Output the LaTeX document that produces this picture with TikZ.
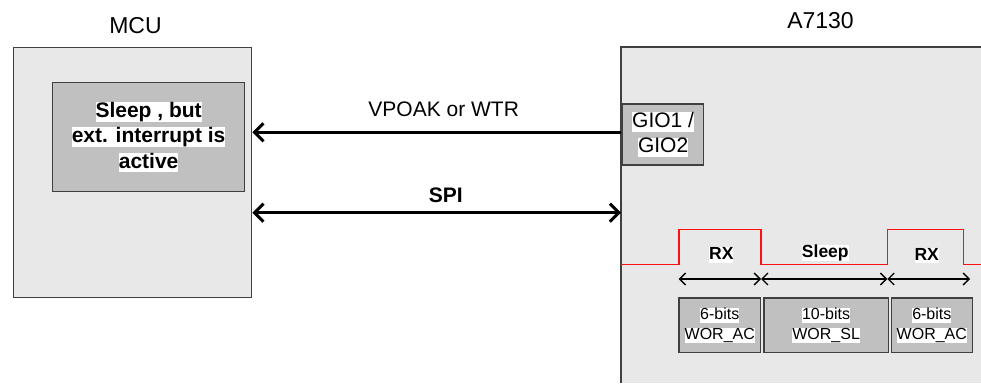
\documentclass[tikz,border=0pt]{standalone}
\usepackage{fontspec}
\setmainfont{Liberation Sans}
\usetikzlibrary{arrows.meta}
\definecolor{chip}{HTML}{E8E8E8}
\definecolor{innergrey}{HTML}{C0C0C0}
\definecolor{edgegrey}{HTML}{404040}
\definecolor{wave}{HTML}{FF1010}
\newcommand\hlt[1]{{\setlength{\fboxsep}{0pt}\colorbox{white}{\rule[-0.19em]{0pt}{0.9em}#1}}}
\begin{document}
\begin{tikzpicture}[x=1pt,y=-1pt,
  chipbox/.style={draw=edgegrey, line width=1.4pt, fill=chip, inner sep=0pt, anchor=north west},
  greybox/.style={draw=edgegrey, line width=1.2pt, fill=innergrey, inner sep=0pt, anchor=north west, align=center},
  titletext/.style={font=\fontsize{23}{27}\selectfont, anchor=base, inner sep=0pt},
  labeltext/.style={font=\fontsize{21}{25}\selectfont, anchor=base, inner sep=0pt},
  wavetext/.style={font=\bfseries\fontsize{17.5}{21}\selectfont, anchor=base, inner sep=0pt},
  bigarrow/.style={line width=3pt, black},
  smallarrow/.style={line width=1.3pt, black, {Straight Barb[length=6pt,width=12pt]}-{Straight Barb[length=6pt,width=12pt]}},
]
\useasboundingbox (0,0) rectangle (981,383);
\fill[white] (0,0) rectangle (981,383);

% MCU
\node[chipbox, minimum width=238pt, minimum height=250pt] (mcu) at (13,47) {};
\node[titletext] (mcutitle) at (135.5,33.3) {MCU};
\node[greybox, minimum width=192pt, minimum height=109pt,
      font=\bfseries\fontsize{21}{25.5}\selectfont] (sleepbox) at (52,82)
      {\hlt{Sleep , but}\\\hlt{ext. interrupt is}\\\hlt{active}};

% A7130 (cut by the right and bottom edges)
\node[fill=chip, inner sep=0pt, outer sep=0pt, anchor=north west, minimum width=360pt, minimum height=336pt] (chip) at (621,47) {};
\draw[draw=edgegrey, line width=1.4pt] (chip.south west) -- (chip.north west) -- (chip.north east);
\node[titletext] (chiptitle) at (820.5,28.3) {A7130};
\node[greybox, minimum width=81pt, minimum height=61pt,
      font=\fontsize{21}{25}\selectfont] (gio) at (622,103.3)
      {\hlt{GIO1 /}\\\hlt{GIO2}};

% connectors
\coordinate (vy) at (0,132.3);
\coordinate (sy) at (0,212.7);
\draw[bigarrow, {Straight Barb[length=9pt,width=18pt]}-] (vy -| mcu.east) -- (vy -| chip.west);
\draw[bigarrow, {Straight Barb[length=9pt,width=18pt]}-{Straight Barb[length=9pt,width=18pt]}] (sy -| mcu.east) -- (sy -| chip.west);
\node[labeltext] (vlabel) at (443.7,116) {VPOAK or WTR};
\node[labeltext, font=\bfseries\fontsize{21}{25}\selectfont] (spilabel) at (445.7,202.7) {SPI};

% waveform
\draw[wave, line width=1.2pt] (chip.west |- 0,264.3) -- (679,264.3) -- (679,229.3) -- (761,229.3) -- (761,264.3)
  -- (887.3,264.3) -- (887.3,229.3) -- (963.3,229.3) -- (963.3,264.3) -- (chip.east |- 0,264.3);
\node[wavetext] (rx1) at (721.3,259.3) {\hlt{RX}};
\node[wavetext] (sl) at (825.3,257.3) {\hlt{Sleep}};
\node[wavetext] (rx2) at (926.7,260) {\hlt{RX}};

% timing arrows
\coordinate (t0) at (678.7,279);
\coordinate (t1) at (761,279);
\coordinate (t2) at (887.3,279);
\coordinate (t3) at (970,279);
\draw[smallarrow] (t0) -- (t1);
\draw[smallarrow] (t1) -- (t2);
\draw[smallarrow] (t2) -- (t3);

% register boxes
\tikzset{regbox/.style={greybox, minimum height=54.7pt, font=\fontsize{16}{20}\selectfont}}
\node[regbox, minimum width=81.7pt] (b1) at (678.3,297.3) {\hlt{6-bits}\\\hlt{WOR\_AC}};
\node[regbox, minimum width=124.4pt] (b2) at (763.3,297.3) {\hlt{10-bits}\\\hlt{WOR\_SL}};
\node[regbox, minimum width=81pt] (b3) at (890.7,297.3) {\hlt{6-bits}\\\hlt{WOR\_AC}};
\end{tikzpicture}
\end{document}
